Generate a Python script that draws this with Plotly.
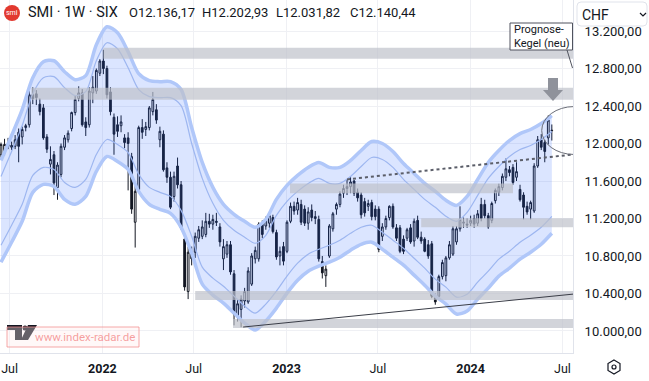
import plotly.graph_objects as go
import pandas as pd

# ---------------- data ----------------
candle_open = [11880, 11900, 11990, 11960, 11970, 12120, 12070, 12170, 12200, 12520,
               12530, 12420, 12380, 12070, 11780, 11880, 11530, 11670, 11960, 12040,
               12160, 12330, 12480, 12540, 12230, 12200, 12540, 12560, 12750, 12880,
               12800, 12550, 12280, 12200, 12190, 12060, 12060, 11860, 11160, 11510,
               12170, 12150, 12170, 12340, 12360, 12040, 12100, 11740, 11640, 11435,
               11760, 11560, 10980, 10420, 10840, 10840, 10990, 11010, 11030, 11170,
               11140, 11170, 11110, 10770, 10820, 10920, 10610, 10150, 10230, 10320,
               10310, 10500, 10770, 10770, 11140, 11120, 11150, 11210, 11050, 10800,
               10900, 10850, 11170, 11330, 11290, 11350, 11300, 11150, 11290, 11200,
               11190, 10740, 10590, 10800, 11090, 11300, 11350, 11470, 11520, 11540,
               11600, 11480, 11450, 11380, 11330, 11370, 11300, 11300, 11010, 11110,
               11210, 11330, 11100, 11100, 10980, 10990, 11100, 10960, 11180, 11000,
               10980, 10920, 10930, 10370, 10370, 10580, 10590, 10780, 10820, 10950,
               11090, 11150, 11140, 11150, 11200, 11150, 11350, 11350, 11230, 11180,
               11390, 11480, 11530, 11640, 11720, 11745, 11640, 11510, 11450, 11330,
               11300, 11280, 11760, 12040, 12010, 12060, 12136.17]
candle_high = [12010, 12050, 12060, 12020, 12090, 12160, 12180, 12210, 12560, 12600,
               12570, 12480, 12420, 12100, 11970, 11920, 11800, 12000, 12090, 12140,
               12340, 12510, 12610, 12580, 12280, 12600, 12720, 12800, 12900, 13000,
               12830, 12600, 12320, 12290, 12300, 12100, 12120, 11900, 11560, 12190,
               12260, 12230, 12400, 12550, 12420, 12180, 12140, 11800, 11700, 11700,
               11850, 11600, 11020, 10900, 10900, 11050, 11120, 11180, 11260, 11250,
               11240, 11260, 11150, 10980, 10960, 10960, 10650, 10330, 10380, 10460,
               10680, 10830, 10900, 11160, 11180, 11220, 11260, 11240, 11080, 10900,
               10950, 11180, 11370, 11380, 11420, 11400, 11340, 11320, 11350, 11280,
               11230, 10800, 10700, 11140, 11270, 11370, 11490, 11560, 11620, 11640,
               11610, 11520, 11480, 11420, 11400, 11400, 11340, 11330, 11150, 11230,
               11340, 11360, 11140, 11130, 11020, 11100, 11140, 11200, 11230, 11060,
               11000, 10970, 10960, 10400, 10600, 10760, 10800, 10960, 11120, 11120,
               11330, 11210, 11200, 11230, 11240, 11290, 11420, 11400, 11260, 11380,
               11520, 11570, 11680, 11840, 11760, 11780, 11800, 11560, 11480, 11380,
               11390, 11790, 12080, 12100, 12040, 12300, 12202.93]
candle_low = [11850, 11870, 11940, 11930, 11940, 11800, 11990, 12130, 12170, 12420,
              12410, 12300, 12040, 11900, 11670, 11450, 11400, 11640, 11930, 12010,
              12130, 12300, 12450, 12180, 12080, 12170, 12430, 12530, 12720, 12740,
              12480, 12300, 11880, 12070, 12120, 11950, 11500, 11250, 10890, 11480,
              12050, 12080, 12140, 12300, 12210, 11960, 11700, 11580, 11300, 11380,
              11520, 11080, 10430, 10340, 10700, 10780, 10950, 10980, 11000, 11100,
              11080, 11120, 10900, 10650, 10780, 10600, 10060, 10100, 10040, 10250,
              10290, 10480, 10720, 10740, 10990, 11080, 11100, 11040, 10760, 10700,
              10700, 10830, 11150, 11240, 11240, 11130, 11120, 11080, 11170, 11140,
              10740, 10560, 10470, 10780, 11060, 11240, 11320, 11420, 11450, 11470,
              11440, 11380, 11200, 11220, 11280, 11180, 11180, 10840, 10960, 11080,
              11180, 11090, 10960, 10830, 10820, 10960, 10930, 10900, 10980, 10930,
              10840, 10770, 10350, 10280, 10340, 10550, 10530, 10760, 10800, 10920,
              11060, 11100, 11100, 11120, 11100, 11120, 11170, 11200, 11090, 11150,
              11360, 11440, 11500, 11600, 11650, 11560, 11600, 11380, 11190, 11240,
              11190, 11260, 11740, 11930, 11800, 11990, 12031.82]
candle_close = [11990, 11990, 11970, 11980, 12040, 11970, 12150, 12190, 12520, 12480,
                12490, 12340, 12060, 11940, 11830, 11580, 11770, 11970, 12060, 12110,
                12330, 12470, 12540, 12200, 12170, 12560, 12600, 12780, 12880, 12800,
                12520, 12340, 12100, 12130, 12230, 12010, 12000, 11300, 11490, 12170,
                12120, 12180, 12380, 12470, 12250, 12130, 11720, 11640, 11320, 11650,
                11560, 11100, 10470, 10840, 10770, 11010, 11080, 11110, 11170, 11140,
                11190, 11160, 10950, 10900, 10920, 10630, 10180, 10290, 10340, 10420,
                10640, 10800, 10860, 11140, 11030, 11190, 11230, 11060, 10790, 10850,
                10745, 11160, 11330, 11280, 11370, 11160, 11150, 11270, 11210, 11220,
                10770, 10620, 10660, 11120, 11250, 11350, 11460, 11520, 11540, 11590,
                11470, 11420, 11240, 11260, 11360, 11220, 11220, 10870, 11110, 11200,
                11330, 11110, 10990, 10850, 10850, 11080, 10950, 11170, 11000, 10960,
                10850, 10800, 10370, 10310, 10580, 10730, 10780, 10920, 11090, 11090,
                11190, 11160, 11130, 11180, 11140, 11250, 11200, 11230, 11110, 11360,
                11500, 11540, 11650, 11730, 11690, 11585, 11700, 11400, 11320, 11270,
                11370, 11760, 12040, 11960, 11915, 12250, 12140.44]
candle_dates = pd.date_range("2021-06-14", periods=len(candle_open), freq="7D")

# forecast envelope (sampled every third week)
band_dates = pd.date_range("2021-06-14", periods=53, freq="21D")
band_upper_outer = [11819, 12085, 12362, 12702, 12872, 12883, 12766, 12681, 12724, 13053,
                    13245, 13181, 12979, 12745, 12670, 12660, 12660, 12575, 12170, 11798,
                    11532, 11351, 11245, 11170, 11106, 11191, 11404, 11553, 11660, 11745,
                    11798, 11745, 11745, 11819, 11926, 12021, 12000, 11915, 11787, 11681,
                    11574, 11489, 11394, 11340, 11436, 11617, 11798, 11926, 12032, 12106,
                    12149, 12213, 12298]
band_upper_inner = [11649, 11915, 12192, 12532, 12702, 12713, 12596, 12511, 12553, 12883,
                    13075, 13011, 12809, 12575, 12500, 12489, 12489, 12404, 12000, 11628,
                    11362, 11181, 11074, 11000, 10936, 11021, 11234, 11383, 11489, 11574,
                    11628, 11574, 11574, 11649, 11755, 11851, 11830, 11745, 11617, 11511,
                    11404, 11319, 11223, 11170, 11266, 11447, 11628, 11755, 11862, 11936,
                    11979, 12043, 12128]
band_lower_inner = [10915, 11128, 11351, 11660, 11745, 11723, 11585, 11532, 11617, 11883,
                    12043, 11989, 11904, 11670, 11532, 11479, 11436, 11287, 11010, 10681,
                    10564, 10478, 10372, 10266, 10191, 10287, 10425, 10585, 10723, 10819,
                    10872, 10915, 10968, 11042, 11106, 11128, 11053, 10968, 10883, 10776,
                    10670, 10553, 10468, 10361, 10393, 10521, 10638, 10766, 10851, 10947,
                    11021, 11106, 11223]
band_lower_outer = [10734, 10947, 11170, 11479, 11564, 11542, 11404, 11351, 11436, 11702,
                    11862, 11808, 11723, 11489, 11351, 11298, 11255, 11106, 10830, 10500,
                    10383, 10298, 10191, 10085, 10010, 10106, 10244, 10404, 10542, 10638,
                    10691, 10734, 10787, 10862, 10925, 10947, 10872, 10787, 10702, 10596,
                    10489, 10372, 10287, 10181, 10212, 10340, 10457, 10585, 10670, 10766,
                    10840, 10925, 11042]

price_ticks = [10000, 10400, 10800, 11200, 11600, 12000, 12400, 12800, 13200]
price_tick_labels = ["10.000,00", "10.400,00", "10.800,00", "11.200,00", "11.600,00",
                     "12.000,00", "12.400,00", "12.800,00", "13.200,00"]
time_ticks = ["2021-07-01", "2022-01-01", "2022-07-01", "2023-01-01",
              "2023-07-01", "2024-01-01", "2024-07-01"]
time_tick_labels = ["Jul", "<b>2022</b>", "Jul", "<b>2023</b>", "Jul", "<b>2024</b>", "Jul"]

# support / resistance zones: (start, end, low, high)
zone_starts = ["2022-01-03", "2021-08-13", "2023-01-08", "2023-09-25", "2022-07-04", "2022-09-17"]
zone_ends = ["2024-08-30", "2024-08-30", "2024-03-25", "2024-08-30", "2024-08-30", "2024-08-30"]
zone_lows = [12904, 12468, 11468, 11106, 10330, 10032]
zone_highs = [13021, 12596, 11574, 11202, 10426, 10128]

trend_dates = ["2022-10-07", "2024-07-22"]
trend_prices = [10042, 10393]
dotted_dates = ["2023-05-01", "2024-07-22"]
dotted_prices = [11617, 11883]
cone_dates = ["2024-05-21", "2024-09-26"]
cone_prices = [11883, 12394]

ohlc_labels = ["O12.136,17", "H12.202,93", "L12.031,82", "C12.140,44"]

# ---------------- figure ----------------
W, H = 649, 381
ML, MR, MT, MB = 0, 76, 0, 28
PW, PH = W - ML - MR, H - MT - MB


def px(x):
    return (x - ML) / PW


def py(y):
    return 1 - (y - MT) / PH


TXT = "#131722"
FONT = "Roboto"
fig = go.Figure()

fill_col = "rgba(41,98,255,0.17)"
edge_col = "#b0c7f9"
inner_col = "#9db6f0"
smooth = dict(shape="spline", smoothing=0.8)

fig.add_trace(go.Scatter(x=band_dates, y=band_lower_outer, mode="lines",
                         line=dict(width=0, color=edge_col, **smooth), hoverinfo="skip", showlegend=False))
fig.add_trace(go.Scatter(x=band_dates, y=band_upper_outer, mode="lines", fill="tonexty",
                         fillcolor=fill_col, line=dict(width=0, color=edge_col, **smooth),
                         hoverinfo="skip", showlegend=False))
for series in (band_upper_inner, band_lower_inner):
    fig.add_trace(go.Scatter(x=band_dates, y=series, mode="lines",
                             line=dict(width=1.2, color=inner_col, **smooth),
                             hoverinfo="skip", showlegend=False))
for series in (band_upper_outer, band_lower_outer):
    fig.add_trace(go.Scatter(x=band_dates, y=series, mode="lines",
                             line=dict(width=3.5, color=edge_col, **smooth),
                             hoverinfo="skip", showlegend=False))

fig.add_trace(go.Candlestick(
    x=candle_dates, open=candle_open, high=candle_high, low=candle_low, close=candle_close,
    increasing=dict(line=dict(color=TXT, width=1), fillcolor="white"),
    decreasing=dict(line=dict(color=TXT, width=1), fillcolor=TXT),
    whiskerwidth=0, showlegend=False, hoverinfo="skip"))

shapes = []
for s, e, lo, hi in zip(zone_starts, zone_ends, zone_lows, zone_highs):
    shapes.append(dict(type="rect", xref="x", yref="y", x0=s, x1=e, y0=lo, y1=hi,
                       fillcolor="rgba(188,191,201,0.68)", line=dict(width=0), layer="above"))

shapes.append(dict(type="line", xref="x", yref="y", x0=trend_dates[0], x1=trend_dates[1],
                   y0=trend_prices[0], y1=trend_prices[1], line=dict(color="#3a3d47", width=1),
                   layer="above"))
shapes.append(dict(type="line", xref="x", yref="y", x0=dotted_dates[0], x1=dotted_dates[1],
                   y0=dotted_prices[0], y1=dotted_prices[1],
                   line=dict(color="#5b5e69", width=2, dash="dot"), layer="above"))
shapes.append(dict(type="circle", xref="x", yref="y", x0=cone_dates[0], x1=cone_dates[1],
                   y0=cone_prices[0], y1=cone_prices[1],
                   line=dict(color="#6b6e78", width=1), layer="above"))


def path(points, close=True):
    d = "M " + " L ".join(f"{px(a):.5f},{py(b):.5f}" for a, b in points)
    return d + (" Z" if close else "")


# down arrow
shapes.append(dict(type="path", xref="paper", yref="paper",
                   path=path([(548, 78), (558, 78), (558, 90), (563, 90), (553, 101), (543, 90), (548, 90)]),
                   fillcolor="#8f929b", line=dict(width=0), layer="above"))
# callout box
shapes.append(dict(type="rect", xref="paper", yref="paper", x0=px(510), x1=px(572.5),
                   y0=py(50), y1=py(23), fillcolor="white", line=dict(color="#50535e", width=1),
                   layer="above"))
shapes.append(dict(type="line", xref="paper", yref="paper", x0=px(567), y0=py(50),
                   x1=px(572.5), y1=py(68), line=dict(color="#50535e", width=1), layer="above"))

# TradingView logo
shapes.append(dict(type="path", xref="paper", yref="paper",
                   path=path([(7, 325), (22, 325), (22, 340), (15, 340), (15, 330), (7, 330)]),
                   fillcolor=TXT, line=dict(width=0), layer="above"))
shapes.append(dict(type="circle", xref="paper", yref="paper", x0=px(22.5), x1=px(27.5),
                   y0=py(330.5), y1=py(325.5), fillcolor=TXT, line=dict(width=0), layer="above"))
shapes.append(dict(type="path", xref="paper", yref="paper",
                   path=path([(28, 325), (37, 325), (28, 340), (21, 340)]),
                   fillcolor=TXT, line=dict(width=0), layer="above"))
# watermark box
shapes.append(dict(type="rect", xref="paper", yref="paper", x0=px(7), x1=px(139),
                   y0=py(347), y1=py(327), fillcolor="rgba(255,235,235,0.35)",
                   line=dict(color="rgba(242,140,140,0.75)", width=1), layer="above"))

# header logo
shapes.append(dict(type="circle", xref="paper", yref="paper", x0=px(4), x1=px(20),
                   y0=py(21), y1=py(5), fillcolor="#e2392f", line=dict(width=0), layer="above"))

# CHF box (rounded)
cx0, cx1, cy0, cy1, r = 577, 647, 2, 26, 4
chf = (f"M {px(cx0 + r)},{py(cy0)} L {px(cx1 - r)},{py(cy0)} Q {px(cx1)},{py(cy0)} {px(cx1)},{py(cy0 + r)} "
       f"L {px(cx1)},{py(cy1 - r)} Q {px(cx1)},{py(cy1)} {px(cx1 - r)},{py(cy1)} "
       f"L {px(cx0 + r)},{py(cy1)} Q {px(cx0)},{py(cy1)} {px(cx0)},{py(cy1 - r)} "
       f"L {px(cx0)},{py(cy0 + r)} Q {px(cx0)},{py(cy0)} {px(cx0 + r)},{py(cy0)} Z")
shapes.append(dict(type="path", xref="paper", yref="paper", path=chf, fillcolor="white",
                   line=dict(color="#e0e3eb", width=1), layer="above"))
shapes.append(dict(type="path", xref="paper", yref="paper",
                   path=path([(640, 13), (643, 16), (646, 13)], close=False),
                   line=dict(color=TXT, width=1.2), layer="above"))

# settings hexagon
shapes.append(dict(type="path", xref="paper", yref="paper",
                   path=path([(614, 360), (620, 363.5), (620, 370.5), (614, 374), (608, 370.5), (608, 363.5)]),
                   line=dict(color=TXT, width=1.2), layer="above"))
shapes.append(dict(type="circle", xref="paper", yref="paper", x0=px(612), x1=px(616),
                   y0=py(369), y1=py(365), line=dict(color=TXT, width=1.2), layer="above"))

annotations = [
    dict(text="SMI · 1W · SIX", x=px(26), y=py(13), xanchor="left", yanchor="middle",
         font=dict(size=14.5, color=TXT, family=FONT)),
    dict(text="smi", x=px(12), y=py(13), xanchor="center", yanchor="middle",
         font=dict(size=7, color="white", family=FONT)),
    dict(text="Prognose-<br>Kegel (neu)", x=px(512), y=py(36.5), xanchor="left", yanchor="middle",
         align="left", font=dict(size=11, color=TXT, family=FONT)),
    dict(text="www.index-radar.de", x=px(33), y=py(337), xanchor="left", yanchor="middle",
         font=dict(size=11.5, color="rgba(238,80,80,0.55)", family=FONT)),
    dict(text="CHF", x=px(580), y=py(14.5), xanchor="left", yanchor="middle",
         font=dict(size=14, color=TXT, family=FONT)),
]
for lbl, xpos in zip(ohlc_labels, [127, 200, 274, 348]):
    annotations.append(dict(text=lbl, x=px(xpos), y=py(13), xanchor="left", yanchor="middle",
                            font=dict(size=13, color=TXT, family=FONT)))
for a in annotations:
    a.update(xref="paper", yref="paper", showarrow=False)

fig.update_layout(
    width=W, height=H, margin=dict(l=ML, r=MR, t=MT, b=MB, autoexpand=False),
    paper_bgcolor="white", plot_bgcolor="white",
    font=dict(family=FONT, color=TXT, size=13),
    shapes=shapes, annotations=annotations, showlegend=False,
    xaxis=dict(type="date", range=["2021-06-12", "2024-07-22"], tickvals=time_ticks,
               ticktext=time_tick_labels, showgrid=True, gridcolor="#eff0f4", gridwidth=1,
               showline=True, linecolor="#e0e3eb", linewidth=1, mirror=False, ticks="",
               zeroline=False, rangeslider=dict(visible=False), fixedrange=True,
               tickfont=dict(size=12.5, color=TXT, family=FONT), ticklabelstandoff=4),
    yaxis=dict(side="right", range=[9765, 13531], tickvals=price_ticks, ticktext=price_tick_labels,
               showgrid=True, gridcolor="#eff0f4", gridwidth=1, showline=True,
               linecolor="#e0e3eb", linewidth=1, ticks="", zeroline=False, fixedrange=True,
               tickfont=dict(size=13, color=TXT, family=FONT), ticklabelstandoff=8),
)

fig.write_html("out.html", config={"displayModeBar": False},
               post_script="document.body.style.margin='0';document.body.style.overflow='hidden';")
